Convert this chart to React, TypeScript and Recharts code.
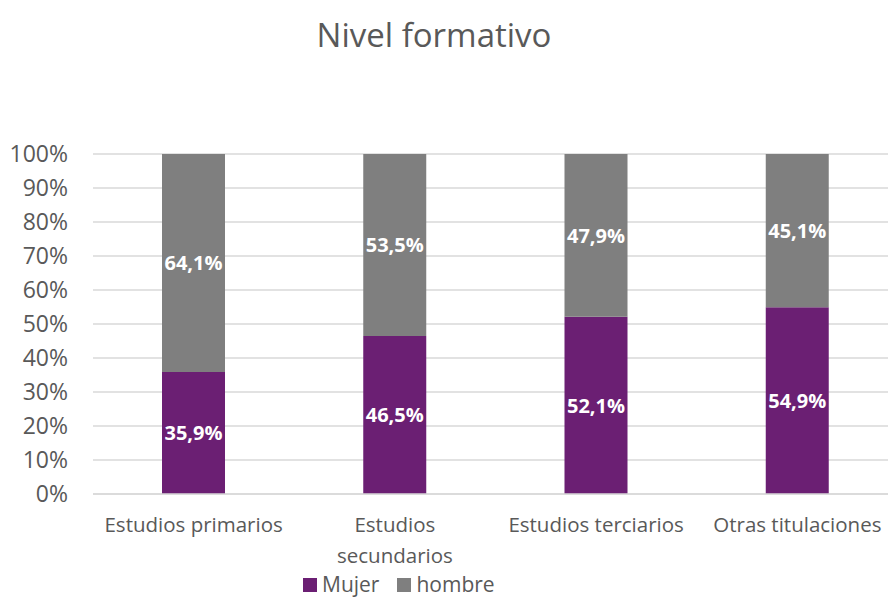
import React from "react";
import { BarChart, Bar, XAxis, YAxis, CartesianGrid, LabelList } from "recharts";

const categories = ["Estudios primarios", "Estudios secundarios", "Estudios terciarios", "Otras titulaciones"];
const mujer = [35.9, 46.5, 52.1, 54.9];
const hombre = [64.1, 53.5, 47.9, 45.1];
const yTicks = [0, 10, 20, 30, 40, 50, 60, 70, 80, 90, 100];

const data = categories.map((c, i) => ({ name: c, mujer: mujer[i], hombre: hombre[i] }));

const FONT = "'Open Sans', 'Noto Sans', sans-serif";
const TEXT = "#595959";
const PURPLE = "#6B1F73";
const GREY = "#7F7F7F";

const fmt = (v: any) => Number(v).toFixed(1).replace(".", ",") + "%";

function wrap(text: string, maxW: number, font: string): string[] {
  let ctx: CanvasRenderingContext2D | null = null;
  try {
    ctx = document.createElement("canvas").getContext("2d");
  } catch (e) {
    ctx = null;
  }
  const measure = (s: string) => {
    if (!ctx) return s.length * 10;
    ctx.font = font;
    return ctx.measureText(s).width;
  };
  const words = text.split(" ");
  const lines: string[] = [];
  let cur = "";
  for (const w of words) {
    const t = cur ? cur + " " + w : w;
    if (cur && measure(t) > maxW) {
      lines.push(cur);
      cur = w;
    } else cur = t;
  }
  if (cur) lines.push(cur);
  return lines;
}

const XTick = (props: any) => {
  const { x, y, payload } = props;
  const lines = wrap(String(payload.value), 192, "20.5px 'Open Sans'");
  return (
    <text x={x} y={y} textAnchor="middle" fill={TEXT} fontSize={20.5} fontFamily={FONT}>
      {lines.map((l, i) => (
        <tspan key={i} x={x} dy={i === 0 ? 30 : 31}>
          {l}
        </tspan>
      ))}
    </text>
  );
};

export default function App() {
  return (
    <div
      style={{
        position: "absolute",
        left: 0,
        top: 0,
        width: 888,
        height: 597,
        overflow: "hidden",
        background: "#fff",
        fontFamily: FONT,
      }}
    >
      <div
        style={{
          position: "absolute",
          left: 0,
          width: 868,
          top: 13,
          textAlign: "center",
          fontSize: 33,
          color: TEXT,
          lineHeight: "44px",
        }}
      >
        Nivel formativo
      </div>
      <BarChart
        width={898}
        height={597}
        data={data}
        margin={{ top: 154, right: 0, left: 0, bottom: 0 }}
        barSize={63}
      >
        <CartesianGrid vertical={false} stroke="#D9D9D9" strokeWidth={1.3} />
        <XAxis
          dataKey="name"
          height={103}
          tick={<XTick />}
          tickLine={false}
          axisLine={{ stroke: "#D9D9D9", strokeWidth: 1.3 }}
          interval={0}
        />
        <YAxis
          width={93}
          domain={[0, 100]}
          ticks={yTicks}
          tickFormatter={(v: number) => v + "%"}
          tick={{ fill: TEXT, fontSize: 23, fontFamily: FONT }}
          tickLine={false}
          axisLine={false}
          tickSize={0}
          tickMargin={25}
          interval={0}
        />
        <Bar dataKey="mujer" stackId="a" fill={PURPLE} isAnimationActive={false}>
          <LabelList
            dataKey="mujer"
            position="center"
            formatter={fmt}
            fill="#FFFFFF"
            fontSize={20}
            fontWeight="bold"
            fontFamily={FONT}
          />
        </Bar>
        <Bar dataKey="hombre" stackId="a" fill={GREY} isAnimationActive={false}>
          <LabelList
            dataKey="hombre"
            position="center"
            formatter={fmt}
            fill="#FFFFFF"
            fontSize={20}
            fontWeight="bold"
            fontFamily={FONT}
          />
        </Bar>
      </BarChart>
      <div
        style={{
          position: "absolute",
          left: 303,
          top: 573,
          height: 23,
          display: "flex",
          alignItems: "center",
          fontSize: 21,
          color: TEXT,
          lineHeight: "23px",
        }}
      >
        <span style={{ width: 14, height: 14, background: PURPLE, display: "inline-block", marginRight: 5 }} />
        <span style={{ marginRight: 18 }}>Mujer</span>
        <span style={{ width: 14, height: 14, background: GREY, display: "inline-block", marginRight: 5 }} />
        <span>hombre</span>
      </div>
    </div>
  );
}
